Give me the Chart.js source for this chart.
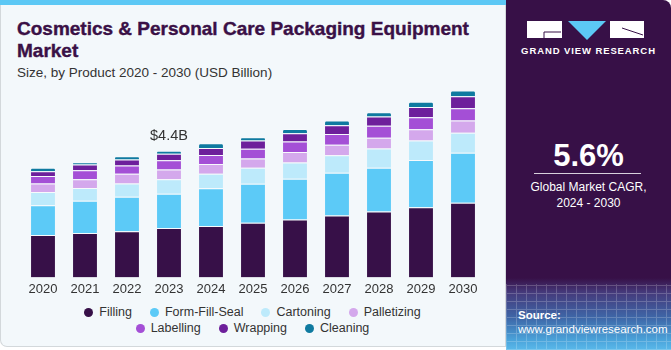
<!DOCTYPE html>
<html>
<head>
<meta charset="utf-8">
<script src="https://cdn.jsdelivr.net/npm/chart.js@4.4.0/dist/chart.umd.min.js"></script>
<style>
  body { margin: 0; width: 671px; height: 350px; overflow: hidden; background: #fff; font-family: "Liberation Sans", Arial, sans-serif; }
  #left { position: absolute; left: 0; top: 0; width: 504px; height: 346px; background: #f3f8fb; border: 1px solid #d3d8db; border-top: none; border-radius: 0 0 0 7px; }
  #strip { position: absolute; left: 0; top: 0; width: 506px; height: 5px; background: #5cc8f5; }
  #title { position: absolute; left: 17px; top: 18px; font-size: 19px; font-weight: bold; color: #3a1046; line-height: 22px; width: 470px; -webkit-text-stroke: 0.4px #3a1046; }
  #sub { position: absolute; left: 17px; top: 65px; font-size: 13.5px; color: #333; }
  #wrap { position: absolute; left: 0; top: 86px; width: 505px; height: 215px; }
  #legend { position: absolute; left: 0; top: 304px; width: 505px; font-size: 12.5px; color: #333; }
  .row { display: flex; justify-content: center; height: 16px; align-items: center; margin-left: 0; }
  .item { display: flex; align-items: center; margin: 0 9px; }
  .dot { width: 9px; height: 9px; border-radius: 50%; margin-right: 6px; }
  #right { position: absolute; left: 506px; top: 0; width: 165px; height: 350px; border-radius: 0 8px 0 0;
    background: linear-gradient(to bottom, #371047 0px, #371047 278px, #45397a 292px, #3e67a8 318px, #4aa3da 340px, #5ab9ea 350px); overflow: hidden; }
  #grid { position: absolute; left: 0; top: 284px; width: 165px; height: 66px; opacity: 0.2;
    background-image: repeating-linear-gradient(0deg, #fff 0 1px, transparent 1px 8px), repeating-linear-gradient(90deg, #fff 0 1px, transparent 1px 10px); }
  #gvr { position: absolute; left: 0; top: 45px; width: 165px; text-align: center; color: #fff; font-weight: bold; font-size: 9.5px; letter-spacing: 0.9px; }
  #cagr { position: absolute; left: 0; top: 138px; width: 165px; text-align: center; color: #fff; font-weight: bold; font-size: 31px; }
  #hr { position: absolute; left: 28px; top: 173px; width: 107px; height: 1px; background: #d8d0dc; }
  #cagrtxt { position: absolute; left: 0; top: 179px; width: 165px; text-align: center; color: #fff; font-size: 12px; line-height: 16px; }
  #src { position: absolute; left: 12px; top: 308px; color: #fff; font-size: 11.5px; line-height: 14px; }
</style>
</head>
<body>
<div id="left"></div>
<div id="strip"></div>
<div id="title">Cosmetics &amp; Personal Care Packaging Equipment Market</div>
<div id="sub">Size, by Product 2020 - 2030 (USD Billion)</div>
<div id="wrap"><canvas id="chart" width="505" height="215"></canvas></div>
<div id="legend"></div>
<div id="right">
  <div id="grid"></div>
  <svg style="position:absolute;left:0;top:0" width="165" height="45">
    <rect x="21" y="21" width="35" height="17" fill="#fff"/>
    <polyline points="38,38 38,32 55,32" fill="none" stroke="#371047" stroke-width="1"/>
    <polygon points="62,21 100,21 81,40" fill="#5cc8f5"/>
    <rect x="104" y="21" width="34" height="17" fill="#fff"/>
    <line x1="116" y1="28" x2="137" y2="35" stroke="#371047" stroke-width="1"/>
  </svg>
  <div id="gvr">GRAND VIEW RESEARCH</div>
  <div id="cagr">5.6%</div>
  <div id="hr"></div>
  <div id="cagrtxt">Global Market CAGR,<br>2024 - 2030</div>
  <div id="src"><b>Source:</b><br>www.grandviewresearch.com</div>
</div>
<script>
var years = ["2020", "2021", "2022", "2023", "2024", "2025", "2026", "2027", "2028", "2029", "2030"];
var segments = ["Filling", "Form-Fill-Seal", "Cartoning", "Palletizing", "Labelling", "Wrapping", "Cleaning"];
var colors = ["#371048", "#5ccaf7", "#bdeafb", "#d4a8ec", "#a44fd6", "#6d1f9b", "#0f7aa0"];

var filling     = [1.47, 1.54, 1.60, 1.72, 1.79, 1.90, 2.01, 2.15, 2.29, 2.44, 2.59];
var formFillSeal= [1.04, 1.12, 1.20, 1.19, 1.31, 1.35, 1.42, 1.49, 1.52, 1.64, 1.74];
var cartoning   = [0.46, 0.45, 0.46, 0.50, 0.50, 0.56, 0.56, 0.60, 0.67, 0.68, 0.70];
var palletizing = [0.29, 0.30, 0.34, 0.34, 0.34, 0.32, 0.37, 0.37, 0.37, 0.39, 0.42];
var labelling   = [0.26, 0.31, 0.29, 0.32, 0.31, 0.34, 0.36, 0.37, 0.42, 0.41, 0.43];
var wrapping    = [0.17, 0.20, 0.21, 0.23, 0.25, 0.29, 0.29, 0.31, 0.32, 0.36, 0.41];
var cleaning    = [0.12, 0.08, 0.11, 0.10, 0.16, 0.11, 0.15, 0.16, 0.15, 0.18, 0.20];

var annotIndex = 3;
var annotText = "$4.4B";

var series = [filling, formFillSeal, cartoning, palletizing, labelling, wrapping, cleaning];

var datasets = series.map(function(vals, i) {
  return {
    label: segments[i],
    data: vals,
    backgroundColor: colors[i],
    borderColor: "rgba(255,255,255,0.35)",
    borderWidth: { top: 1, bottom: 0, left: 0, right: 0 },
    borderRadius: i == series.length - 1 ? 2 : 0,
    borderSkipped: "bottom",
    barPercentage: 0.57,
    categoryPercentage: 1
  };
});

var labelPlugin = {
  id: "totalLabel",
  afterDatasetsDraw: function(chart) {
    var meta = chart.getDatasetMeta(series.length - 1);
    var bar = meta.data[annotIndex];
    var ctx = chart.ctx;
    ctx.save();
    ctx.font = "14.5px 'Liberation Sans', Arial";
    ctx.fillStyle = "#333";
    ctx.textAlign = "center";
    ctx.textBaseline = "middle";
    ctx.fillText(annotText, bar.x, bar.y - 15);
    ctx.restore();
  }
};

new Chart(document.getElementById("chart"), {
  type: "bar",
  data: { labels: years, datasets: datasets },
  options: {
    responsive: false,
    animation: false,
    layout: { padding: { left: 22, right: 21, top: 0, bottom: 0 } },
    plugins: { legend: { display: false }, tooltip: { enabled: false } },
    scales: {
      x: {
        stacked: true,
        grid: { display: false, drawTicks: false },
        border: { display: false },
        ticks: { color: "#333", font: { size: 13, family: "'Liberation Sans', Arial" }, padding: 4 }
      },
      y: {
        stacked: true,
        display: false,
        min: 0,
        max: 6.65
      }
    }
  },
  plugins: [labelPlugin]
});

// legend, two rows as in the original
var legend = document.getElementById("legend");
[[0, 4], [4, 7]].forEach(function(r) {
  var row = document.createElement("div");
  row.className = "row";
  for (var i = r[0]; i < r[1]; i++) {
    var item = document.createElement("div");
    item.className = "item";
    item.innerHTML = '<span class="dot" style="background:' + colors[i] + '"></span>' + segments[i];
    row.appendChild(item);
  }
  legend.appendChild(row);
});
</script>
</body>
</html>
